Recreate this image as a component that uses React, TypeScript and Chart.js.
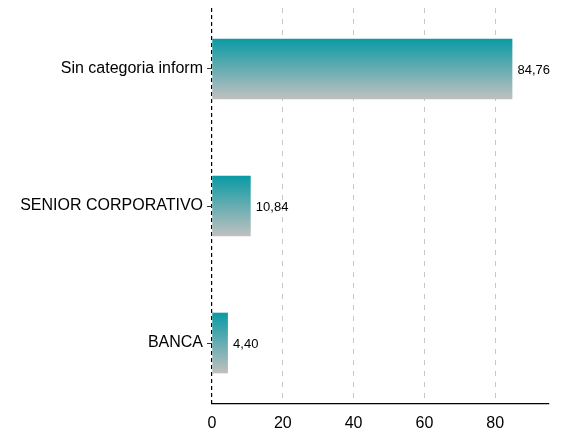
import React, { useEffect, useRef } from "react";
import { Chart, registerables } from "chart.js";

Chart.register(...registerables);

const categories = ["Sin categoria inform", "SENIOR CORPORATIVO", "BANCA"];
const values = [84.76, 10.84, 4.4];
const valueLabels = ["84,76", "10,84", "4,40"];
const xTicks = [0, 20, 40, 60, 80];

const FONT = "'Liberation Sans', Arial, sans-serif";

const labelPlugin = {
  id: "barLabels",
  afterDatasetsDraw(chart: any) {
    const ctx = chart.ctx;
    const meta = chart.getDatasetMeta(0);
    ctx.save();
    ctx.font = `13px ${FONT}`;
    ctx.fillStyle = "#000";
    ctx.textAlign = "left";
    ctx.textBaseline = "middle";
    meta.data.forEach((bar: any, i: number) => {
      ctx.fillText(valueLabels[i], bar.x + 5.5, bar.y + 1);
    });
    ctx.restore();
  },
};

export default function App() {
  const ref = useRef<HTMLCanvasElement>(null);
  useEffect(() => {
    if (!ref.current) return;
    const data = values.map((v, i) => ({ x: v, y: i + 1 }));
    const chart = new Chart(ref.current, {
      type: "bar",
      data: {
        datasets: [
          {
            data: data as any,
            barThickness: 60,
            backgroundColor: (c: any) => {
              const ch = c.chart;
              const ys = ch.scales && ch.scales.y;
              if (!ys || c.dataIndex === undefined) return "#0e9aa5";
              const cy = ys.getPixelForValue(c.dataIndex + 1);
              if (!isFinite(cy)) return "#0e9aa5";
              const g = ch.ctx.createLinearGradient(0, cy - 30, 0, cy + 30);
              g.addColorStop(0, "#0b9aa4");
              g.addColorStop(1, "#c0c0c0");
              return g;
            },
            borderWidth: 0,
          },
        ],
      },
      options: {
        indexAxis: "y",
        animation: false,
        responsive: false,
        maintainAspectRatio: false,
        layout: { padding: { top: 8, right: 18, left: 0, bottom: 0 } },
        plugins: { legend: { display: false }, tooltip: { enabled: false } },
        scales: {
          x: {
            type: "linear",
            min: 0,
            max: 95.2,
            afterBuildTicks: (s: any) => {
              s.ticks = xTicks.map((v) => ({ value: v }));
            },
            afterFit: (s: any) => {
              s.height = 26;
            },
            border: {
              display: true,
              color: "#000",
              width: 1.2,
              dash: (c: any) => (c.tick && c.tick.value === 0 ? [4, 3] : [5, 6]),
            },
            grid: {
              drawTicks: false,
              color: (c: any) => (c.tick && c.tick.value === 0 ? "#000" : "#c8c8c8"),
              lineWidth: (c: any) => (c.tick && c.tick.value === 0 ? 1.2 : 1),
            },
            ticks: {
              color: "#000",
              padding: 10,
              font: { family: FONT, size: 16 },
            },
          },
          y: {
            type: "linear",
            reverse: true,
            offset: false,
            min: 0.555,
            max: 3.445,
            afterBuildTicks: (s: any) => {
              s.ticks = categories.map((_, i) => ({ value: i + 1 }));
            },
            afterFit: (s: any) => {
              s.width = 212;
              s.paddingTop = 0;
              s.paddingBottom = 0;
            },
            border: { display: false },
            grid: {
              offset: false,
              drawOnChartArea: false,
              drawTicks: true,
              tickLength: 5,
              color: "#333",
            },
            ticks: {
              color: "#000",
              padding: 4,
              font: { family: FONT, size: 16 },
              callback: (v: any) => categories[Number(v) - 1] ?? "",
            },
          },
        },
      },
      plugins: [labelPlugin],
    } as any);
    return () => chart.destroy();
  }, []);
  return (
    <div style={{ position: "fixed", left: 0, top: 0, width: 567, height: 430, background: "#fff" }}>
      <canvas ref={ref} width={567} height={430} style={{ width: 567, height: 430 }} />
    </div>
  );
}
